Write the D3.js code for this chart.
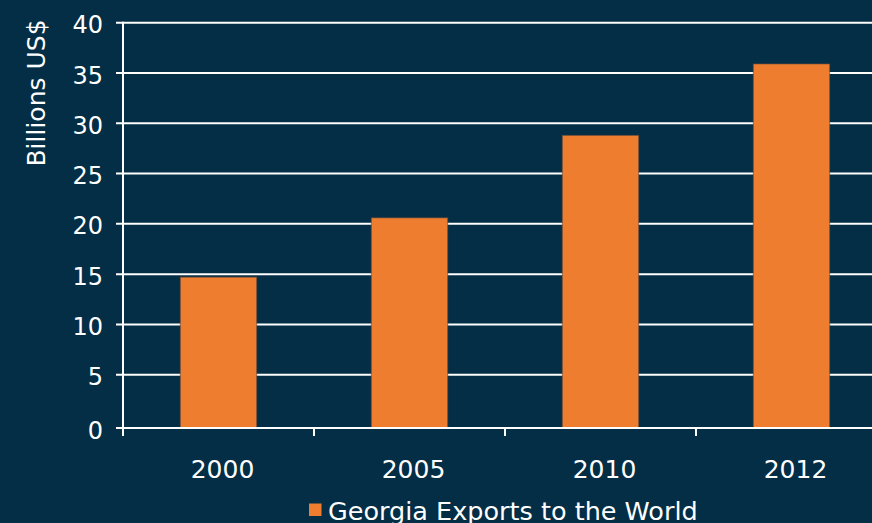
<!DOCTYPE html>
<html>
<head>
<meta charset="utf-8">
<script src="https://cdn.jsdelivr.net/npm/d3@7"></script>
<style>
  html, body { margin: 0; padding: 0; background: #032e46; overflow: hidden; }
  text { font-family: "DejaVu Sans", Verdana, sans-serif; fill: #ffffff; }
</style>
</head>
<body>
<div id="chart"></div>
<script>
var w = 872;
var h = 523;

var years = ['2000', '2005', '2010', '2012'];
var exports = [14.7, 20.6, 28.8, 35.9];
var yTicks = [0, 5, 10, 15, 20, 25, 30, 35, 40];
var seriesName = 'Georgia Exports to the World';
var yTitle = 'Billions US$';

var left = 123;
var bandRight = 887;

var svg = d3.select('#chart')
    .append('svg')
    .attr('width', w)
    .attr('height', h);

svg.append('rect')
    .attr('width', w)
    .attr('height', h)
    .attr('fill', '#032e46');

var x = d3.scaleBand()
    .domain(years)
    .range([left, bandRight])
    .padding(0);

var y = d3.scaleLinear()
    .domain([0, 40])
    .range([425, 22.7]);

var base = y(0) + 3;

// gridlines + y ticks
svg.selectAll('line.grid')
    .data(yTicks.filter(function(d) { return d > 0; }))
    .enter()
    .append('line')
    .attr('class', 'grid')
    .attr('x1', left - 7)
    .attr('x2', w)
    .attr('y1', function(d) { return y(d); })
    .attr('y2', function(d) { return y(d); })
    .attr('stroke', '#ffffff')
    .attr('stroke-width', 2);

// bars
var barW = x.bandwidth() * 0.4;
svg.selectAll('rect.bar')
    .data(exports)
    .enter()
    .append('rect')
    .attr('class', 'bar')
    .attr('x', function(d, i) { return x(years[i]) + (x.bandwidth() - barW) / 2; })
    .attr('y', function(d) { return y(d); })
    .attr('width', barW)
    .attr('height', function(d) { return base - y(d); })
    .attr('fill', '#ee7d2f')
    .attr('stroke', 'rgba(90,70,60,0.6)')
    .attr('stroke-width', 1);

// y axis line
svg.append('line')
    .attr('x1', left).attr('x2', left)
    .attr('y1', y(40) - 1).attr('y2', base + 8)
    .attr('stroke', '#ffffff')
    .attr('stroke-width', 2);

// x axis line
svg.append('line')
    .attr('x1', left - 7).attr('x2', w)
    .attr('y1', base).attr('y2', base)
    .attr('stroke', '#ffffff')
    .attr('stroke-width', 2);

// x ticks at band boundaries
svg.selectAll('line.xtick')
    .data(years.slice(1))
    .enter()
    .append('line')
    .attr('class', 'xtick')
    .attr('x1', function(d) { return x(d); })
    .attr('x2', function(d) { return x(d); })
    .attr('y1', base)
    .attr('y2', base + 8)
    .attr('stroke', '#ffffff')
    .attr('stroke-width', 2);

// y tick labels
svg.selectAll('text.ylab')
    .data(yTicks)
    .enter()
    .append('text')
    .attr('class', 'ylab')
    .attr('x', 103)
    .attr('y', function(d) { return (d === 0 ? base : y(d)) + 2; })
    .attr('dy', '0.36em')
    .attr('text-anchor', 'end')
    .style('font-size', '24px')
    .text(function(d) { return d; });

// x labels
svg.selectAll('text.xlab')
    .data(years)
    .enter()
    .append('text')
    .attr('class', 'xlab')
    .attr('x', function(d) { return x(d) + x.bandwidth() / 2 + 4; })
    .attr('y', 477.5)
    .attr('text-anchor', 'middle')
    .style('font-size', '25px')
    .text(function(d) { return d; });

// y title
svg.append('text')
    .attr('transform', 'translate(45,93) rotate(-90)')
    .attr('text-anchor', 'middle')
    .style('font-size', '25px')
    .text(yTitle);

// legend
svg.append('rect')
    .attr('x', 309)
    .attr('y', 503.5)
    .attr('width', 12.5)
    .attr('height', 12.5)
    .attr('fill', '#ee7d2f');

svg.append('text')
    .attr('x', 328)
    .attr('y', 520)
    .style('font-size', '25.5px')
    .text(seriesName);
</script>
</body>
</html>
